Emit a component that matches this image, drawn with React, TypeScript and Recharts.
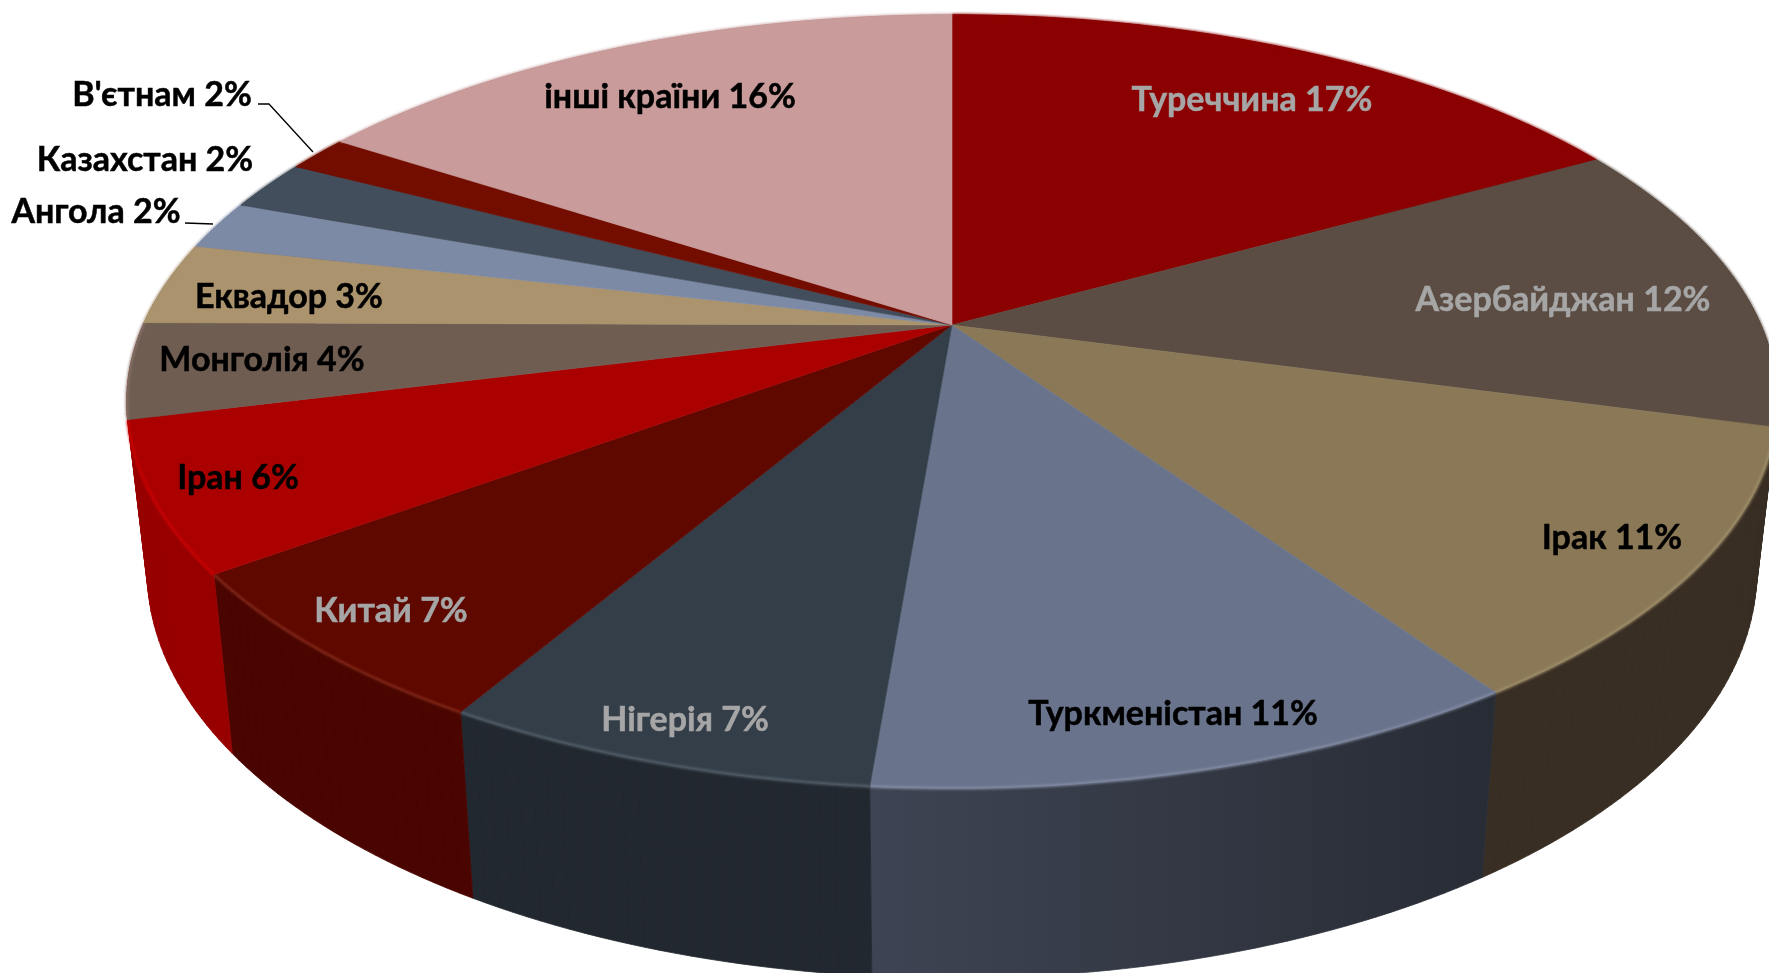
import { Pie, PieChart } from 'recharts'

const countries = [
  'Туреччина',
  'Азербайджан',
  'Ірак',
  'Туркменістан',
  'Нігерія',
  'Китай',
  'Іран',
  'Монголія',
  'Еквадор',
  'Ангола',
  'Казахстан',
  "В'єтнам",
  'інші країни',
]
// sector sizes, in percent
const shares = [16.9, 12.3, 11.3, 10.8, 7.1, 6.5, 6.2, 4, 3.45, 2.05, 2.1, 1.5, 15.8]
// percentages as printed on the labels
const printedShares = [17, 12, 11, 11, 7, 7, 6, 4, 3, 2, 2, 2, 16]

const topColors = [
  '#8b0000', '#5b4d43', '#8a7857', '#69738b', '#343e49', '#5e0800', '#aa0000',
  '#6f5d52', '#aa936d', '#7d8aa5', '#424e5c', '#720d00', '#c99b9b',
]
const wallColors = [
  '#6b0000', '#392e24', '#392e24', '#2a2d36', '#22282f', '#4a0500', '#980000',
  '#980000', '#7d6c50', '#5d6780', '#323b46', '#550a00', '#a37b7b',
]
const rimColors = [
  '#8b0000', '#5b4d43', '#a8976f', '#8a94ab', '#5d6873', '#8a3020', '#d40000',
  '#8a7a70', '#aa936d', '#7d8aa5', '#424e5c', '#720d00', '#c99b9b',
]
const labelColors = [
  '#a6a6a6', '#a6a6a6', '#000', '#000', '#a6a6a6', '#a6a6a6', '#000',
  '#000', '#000', '#000', '#000', '#000', '#000',
]
// label centres in page pixels
const labelSpots = [
  [1252, 97], [1563, 297], [1612, 535], [1173, 711], [685, 717], [391, 608], [238, 475],
  [262, 357], [289, 294], [96, 209], [145, 157], [162, 92], [670, 94],
]

const pieData = countries.map((name, i) => ({
  name,
  value: shares[i],
  fill: topColors[i],
}))

const WIDTH = 1769
const HEIGHT = 973
const CX = 952
const CY = 325
const RADIUS = 809
const SQUASH = 373 / 812 // foreshortening of the disc
const PERSPECTIVE = 0.198
const WALL_DROP = 166.5
const WALL_SHRINK_X = 0.975
const WALL_GROW_Y = 1.05

// sector angle -> point on the perspective disc
const topPoint = (cx: number, cy: number, r: number, deg: number) => {
  const a = (deg * Math.PI) / 180
  const u = Math.cos(a)
  const v = -Math.sin(a)
  const w = 1 - PERSPECTIVE * v
  return [cx + (r * u) / w, cy + (r * SQUASH * v) / w]
}

const bottomPoint = (cx: number, cy: number, r: number, deg: number) => {
  const [x, y] = topPoint(cx, cy, r, deg)
  return [cx + (x - cx) * WALL_SHRINK_X, cy + WALL_DROP + (y - cy) * WALL_GROW_Y]
}

const sweep = (start: number, end: number) => {
  const steps = Math.max(2, Math.ceil(Math.abs(end - start)))
  return Array.from({ length: steps + 1 }, (_, i) => start + ((end - start) * i) / steps)
}

const toPath = (pts: number[][]) =>
  'M' + pts.map((p) => `${p[0].toFixed(2)},${p[1].toFixed(2)}`).join('L') + 'Z'

const WallShape = (props: any) => {
  const { cx, cy, outerRadius, startAngle, endAngle, index } = props
  const angles = sweep(startAngle, endAngle)
  const quads: string[] = []
  for (let i = 0; i < angles.length - 1; i++) {
    const quad = [
      topPoint(cx, cy, outerRadius, angles[i]),
      topPoint(cx, cy, outerRadius, angles[i + 1]),
      bottomPoint(cx, cy, outerRadius, angles[i + 1]),
      bottomPoint(cx, cy, outerRadius, angles[i]),
    ]
    // same winding for every quad so overlaps near the silhouette stay filled
    let area = 0
    quad.forEach((p, k) => {
      const q = quad[(k + 1) % 4]
      area += p[0] * q[1] - q[0] * p[1]
    })
    quads.push(toPath(area < 0 ? quad.reverse() : quad))
  }
  const fill = index === 3 ? 'url(#turkmenWall)' : wallColors[index]
  return <path d={quads.join('')} fill={fill} stroke={fill} strokeWidth={0.8} />
}

const TopShape = (props: any) => {
  const { cx, cy, outerRadius, startAngle, endAngle, fill, index } = props
  const arc = sweep(startAngle, endAngle).map((d) => topPoint(cx, cy, outerRadius, d))
  const arcPath = 'M' + arc.map((p) => `${p[0].toFixed(2)},${p[1].toFixed(2)}`).join('L')
  return (
    <g>
      <path d={toPath([[cx, cy], ...arc])} fill={fill} stroke={fill} strokeWidth={0.6} />
      <path
        d={arcPath}
        fill='none'
        stroke={rimColors[index]}
        strokeWidth={3}
        strokeOpacity={0.7}
        filter='url(#softRim)'
      />
    </g>
  )
}

const renderLabel = (props: any) => {
  const { index } = props
  const [x, y] = labelSpots[index]
  return (
    <g key={index}>
      {index === 11 && (
        <polyline points='258,104 269,104 313,152' fill='none' stroke='#000' strokeWidth={1.3} />
      )}
      {index === 9 && (
        <polyline points='185,223 213,224' fill='none' stroke='#000' strokeWidth={1.3} />
      )}
      <text
        x={x}
        y={y}
        textAnchor='middle'
        dominantBaseline='central'
        fill={labelColors[index]}
        stroke={labelColors[index]}
        strokeWidth={0.5}
        fontFamily='Lato, "Open Sans", sans-serif'
        fontWeight={700}
        fontSize={34}
      >
        {`${countries[index]} ${printedShares[index]}%`}
      </text>
    </g>
  )
}

export default function App() {
  return (
    <div style={{ position: 'fixed', left: 0, top: 0, width: WIDTH, height: HEIGHT, overflow: 'hidden' }}>
      <PieChart width={WIDTH} height={HEIGHT} margin={{ top: 0, right: 0, bottom: 0, left: 0 }}>
        <defs>
          <linearGradient id='turkmenWall' gradientUnits='userSpaceOnUse' x1={872} y1={0} x2={1490} y2={0}>
            <stop offset='0%' stopColor='#3e4453' />
            <stop offset='100%' stopColor='#282c35' />
          </linearGradient>
          <filter id='softRim' filterUnits='userSpaceOnUse' x={0} y={0} width={WIDTH} height={HEIGHT}>
            <feGaussianBlur stdDeviation={0.9} />
          </filter>
        </defs>
        <Pie
          data={pieData}
          dataKey='value'
          nameKey='name'
          cx={CX}
          cy={CY}
          outerRadius={RADIUS}
          startAngle={90}
          endAngle={-270}
          stroke='none'
          shape={WallShape}
          label={false}
          labelLine={false}
          isAnimationActive={false}
        />
        <Pie
          data={pieData}
          dataKey='value'
          nameKey='name'
          cx={CX}
          cy={CY}
          outerRadius={RADIUS}
          startAngle={90}
          endAngle={-270}
          stroke='none'
          shape={TopShape}
          label={renderLabel}
          labelLine={false}
          isAnimationActive={false}
        />
      </PieChart>
    </div>
  )
}
